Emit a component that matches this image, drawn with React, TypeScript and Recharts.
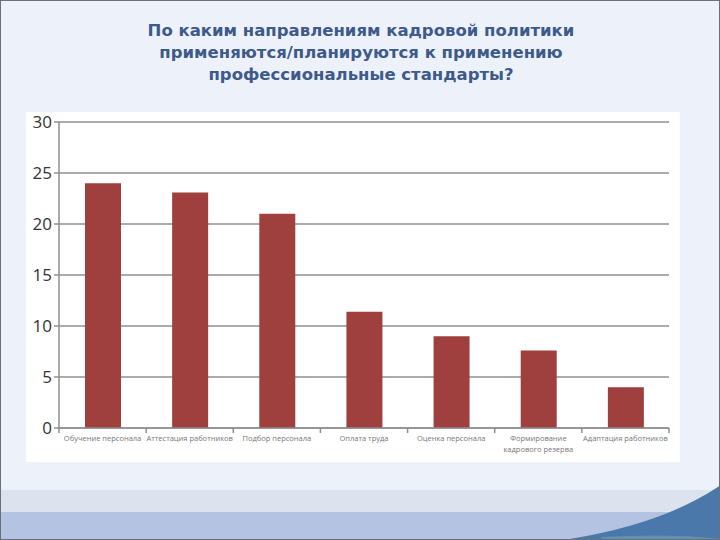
import { BarChart, Bar, XAxis, YAxis, CartesianGrid } from "recharts";

const categories = [
  "Обучение персонала",
  "Аттестация работников",
  "Подбор персонала",
  "Оплата труда",
  "Оценка персонала",
  "Формирование\nкадрового резерва",
  "Адаптация работников",
];
const values = [24, 23.1, 21, 11.4, 9, 7.6, 4];
const yTicks = [0, 5, 10, 15, 20, 25, 30];

const data = categories.map((name, i) => ({ name, value: values[i] }));

const BAR_COLOR = "#a0403e";
const GRID_COLOR = "#8f8f8f";

function CategoryTick({ x, y, payload, index }: any) {
  const half = payload?.offset ?? 43.5;
  const lines = String(payload.value).split("\n");
  return (
    <g>
      <line x1={x - half} y1={y - 8} x2={x - half} y2={y - 3} stroke={GRID_COLOR} strokeWidth={1.5} />
      {index === categories.length - 1 && (
        <line x1={x + half} y1={y - 8} x2={x + half} y2={y - 3} stroke={GRID_COLOR} strokeWidth={1.5} />
      )}
      <text x={x} y={y + 5} textAnchor="middle" fontSize={7.5} fill="#777" fontFamily="'Open Sans', sans-serif">
        {lines.map((l, i) => (
          <tspan key={i} x={x} dy={i === 0 ? 0 : 11}>
            {l}
          </tspan>
        ))}
      </text>
    </g>
  );
}

export default function App() {
  return (
    <div
      style={{
        position: "fixed",
        left: 0,
        top: 0,
        width: 720,
        height: 540,
        background: "#edf1fa",
        overflow: "hidden",
        boxSizing: "border-box",
        border: "1px solid #6d6f78",
      }}
    >
      <div
        style={{
          position: "absolute",
          top: 19,
          left: 0,
          width: 720,
          textAlign: "center",
          fontFamily: "'DejaVu Sans', Verdana, sans-serif",
          fontWeight: "bold",
          fontSize: 16.5,
          lineHeight: "22px",
          color: "#3d5a8a",
          letterSpacing: 0,
        }}
      >
        По каким направлениям кадровой политики
        <br />
        применяются/планируются к применению
        <br />
        профессиональные стандарты?
      </div>

      {/* bottom decorative bands */}
      <div style={{ position: "absolute", left: 0, top: 489, width: 720, height: 23, background: "#dce3ef" }} />
      <div style={{ position: "absolute", left: 0, top: 511, width: 720, height: 29, background: "#b4c3e1" }} />
      <svg style={{ position: "absolute", left: 0, top: 470 }} width={720} height={70}>
        <path d="M 556 70 Q 660 55 720 14 L 720 70 Z" fill="#4a78aa" />
        <path d="M 600 66 Q 670 62 720 68 L 720 70 L 600 70 Z" fill="#6fa2b8" opacity={0.6} />
      </svg>

      <div style={{ position: "absolute", left: 25, top: 111, width: 654, height: 350, background: "#ffffff" }} />
      <div style={{ position: "absolute", left: 25, top: 101, width: 654, height: 360 }}>
        <BarChart width={654} height={360} data={data} margin={{ top: 20, right: 11, bottom: 0, left: 0 }}>
          <CartesianGrid vertical={false} stroke={GRID_COLOR} strokeWidth={1.5} />
          <XAxis
            dataKey="name"
            interval={0}
            height={34}
            tickLine={false}
            axisLine={{ stroke: GRID_COLOR, strokeWidth: 1.5 }}
            tick={<CategoryTick />}
          />
          <YAxis
            domain={[0, 30]}
            ticks={yTicks}
            width={33}
            tickSize={5}
            tickLine={{ stroke: GRID_COLOR, strokeWidth: 1.5 }}
            axisLine={{ stroke: GRID_COLOR, strokeWidth: 1.5 }}
            tick={{ fontSize: 17, fill: "#333", fontFamily: "'Open Sans', sans-serif" }}
            tickMargin={2}
          />
          <Bar dataKey="value" fill={BAR_COLOR} barSize={36} isAnimationActive={false} />
        </BarChart>
      </div>
    </div>
  );
}
